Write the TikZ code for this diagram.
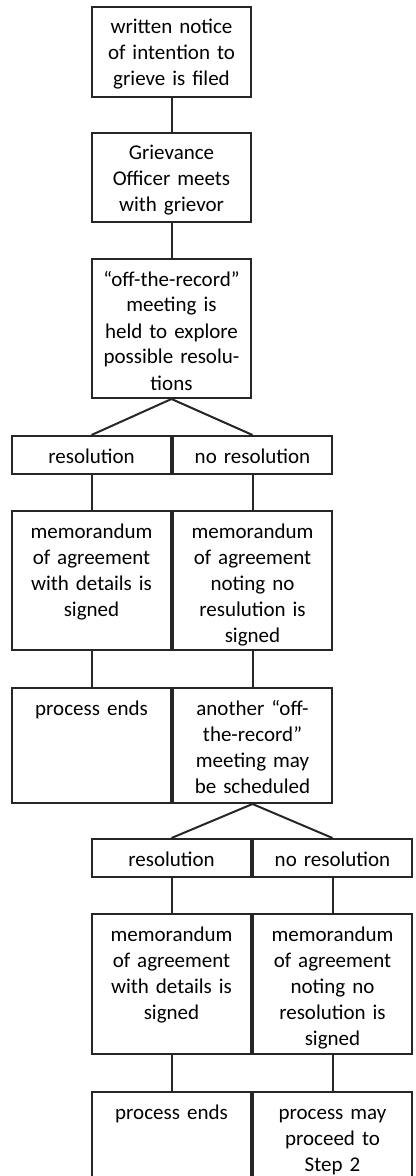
\documentclass[tikz,border=0pt]{standalone}
\usepackage{fontspec}
\setmainfont{Carlito}
\usetikzlibrary{positioning}

\tikzstyle{link} = [line width=1pt, black!85]

\begin{document}
\begin{tikzpicture}[x=0.5pt, y=-0.5pt,
    box/.style={draw=black!85, line width=1pt, anchor=north, align=center,
                text width=76pt, minimum width=79.5pt, inner xsep=1.75pt,
                inner ysep=5.5pt, text height=8pt, text depth=#1-19pt,
                font=\fontsize{10.5}{13}\selectfont}]
  \useasboundingbox (0,0) rectangle (416,1176);
  \clip (0,0) rectangle (416,1176);

  % first meeting
  \node [box=45pt] (notice) at (171.5,6)
        {written notice\\of intention to\\grieve is filed};
  \node [box=44.5pt] (officer) at (171.5,132)
        {Grievance\\Officer meets\\with grievor};
  \node [box=69.5pt] (meeting) at (171.5,258)
        {``off-the-record''\\meeting is\\held to explore\\possible resolu-\\tions};

  \node [box=18.5pt] (res1) at (91.5,435) {resolution};
  \node [box=18.5pt, right=0pt of res1] (nores1) {no resolution};

  \node [box=69.5pt] (memo1l) at (91.5,510)
        {memorandum\\of agreement\\with details is\\signed};
  \node [box=69.5pt, right=0pt of memo1l] (memo1r)
        {memorandum\\of agreement\\noting no\\resulution is\\signed};

  \node [box=57.5pt] (end1l) at (91.5,687) {process ends};
  \node [box=57.5pt, right=0pt of end1l] (end1r)
        {another ``off-\\the-record''\\meeting may\\be scheduled};

  % second meeting
  \node [box=19pt] (res2) at (171.5,838) {resolution};
  \node [box=19pt, right=0pt of res2] (nores2) {no resolution};

  \node [box=70pt] (memo2l) at (171.5,913)
        {memorandum\\of agreement\\with details is\\signed};
  \node [box=70pt, right=0pt of memo2l] (memo2r)
        {memorandum\\of agreement\\noting no\\resolution is\\signed};

  \node [box=52pt] (end2l) at (171.5,1091) {process ends};
  \node [box=52pt, right=0pt of end2l] (end2r)
        {process may\\proceed to\\Step 2};

  \draw [link] (notice) -- (officer);
  \draw [link] (officer) -- (meeting);
  \draw [link] (res1.north) -- (meeting.south) -- (nores1.north);
  \draw [link] (res1) -- (memo1l);
  \draw [link] (nores1) -- (memo1r);
  \draw [link] (memo1l) -- (end1l);
  \draw [link] (memo1r) -- (end1r);
  \draw [link] (res2.north) -- (end1r.south) -- (nores2.north);
  \draw [link] (res2) -- (memo2l);
  \draw [link] (nores2) -- (memo2r);
  \draw [link] (memo2l) -- (end2l);
  \draw [link] (memo2r) -- (end2r);
\end{tikzpicture}
\end{document}
